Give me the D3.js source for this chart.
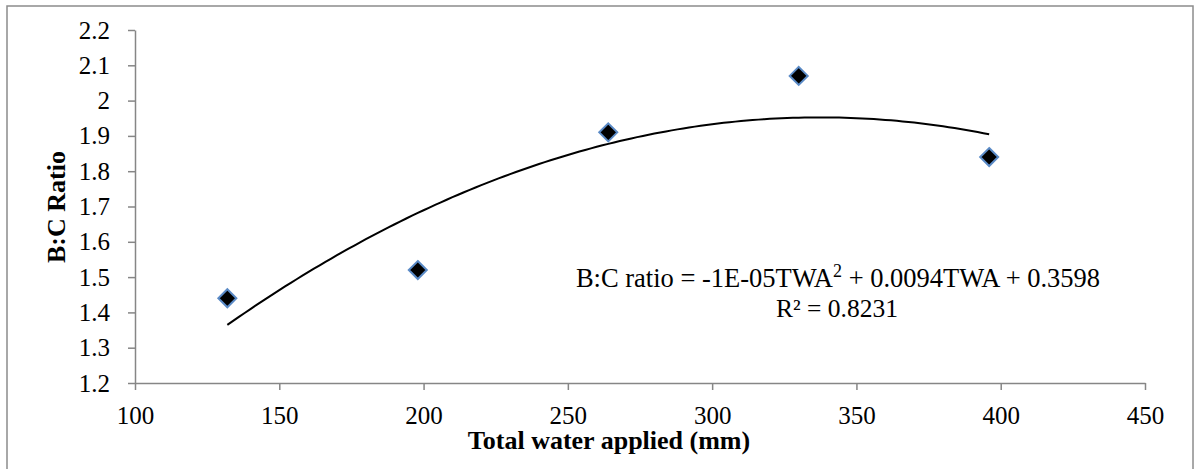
<!DOCTYPE html>
<html>
<head>
<meta charset="utf-8">
<script src="https://cdn.jsdelivr.net/npm/d3@7"></script>
<style>
  body { margin: 0; background: #fff; }
  text { font-family: "Liberation Serif", "Times New Roman", serif; fill: #000; }
</style>
</head>
<body>
<svg id="chart" width="1196" height="469"></svg>
<script>
// data
var water = [132, 198, 264, 330, 396];
var ratio = [1.44, 1.52, 1.91, 2.07, 1.84];
var xTicks = [100, 150, 200, 250, 300, 350, 400, 450];
var yTicks = [1.2, 1.3, 1.4, 1.5, 1.6, 1.7, 1.8, 1.9, 2, 2.1, 2.2];

var svg = d3.select('#chart');
var plotLeft = 135, plotRight = 1145, plotTop = 30, plotBottom = 383;

var x = d3.scaleLinear().domain([100, 450]).range([plotLeft, plotRight]);
var y = d3.scaleLinear().domain([1.2, 2.2]).range([plotBottom, plotTop]);

// outer frame
svg.append('rect')
  .attr('x', 7).attr('y', 6)
  .attr('width', 1186).attr('height', 480)
  .attr('fill', 'none')
  .attr('stroke', '#8c8c8c')
  .attr('stroke-width', 1.5);

// axes
var xAxis = svg.append('g')
  .attr('transform', 'translate(0,' + plotBottom + ')')
  .call(d3.axisBottom(x).tickValues(xTicks).tickSize(7).tickSizeOuter(0).tickPadding(16));

var yAxis = svg.append('g')
  .attr('transform', 'translate(' + plotLeft + ',0)')
  .call(d3.axisLeft(y).tickValues(yTicks).tickSize(7).tickSizeOuter(0).tickPadding(18)
    .tickFormat(function(d) { return String(+d.toFixed(1)); }));

[xAxis, yAxis].forEach(function(g) {
  g.attr('font-family', '"Liberation Serif", serif');
  g.select('.domain').attr('stroke', '#868686').attr('stroke-width', 1.5);
  g.selectAll('.tick line').attr('stroke', '#868686').attr('stroke-width', 1.5);
  g.selectAll('.tick text')
    .attr('font-family', '"Liberation Serif", serif')
    .attr('font-size', 25)
    .attr('fill', '#000');
});

// axis titles
svg.append('text')
  .attr('x', 609).attr('y', 449)
  .attr('text-anchor', 'middle')
  .attr('font-size', 26)
  .attr('font-weight', 'bold')
  .text('Total water applied (mm)');

svg.append('text')
  .attr('transform', 'translate(65,207) rotate(-90)')
  .attr('text-anchor', 'middle')
  .attr('font-size', 26)
  .attr('font-weight', 'bold')
  .text('B:C Ratio');

// least squares quadratic trend, same as the one shown in the equation
function quadFit(xs, ys) {
  var s = [0, 0, 0, 0, 0], t = [0, 0, 0];
  xs.forEach(function(xv, i) {
    for (var k = 0; k < 5; k++) s[k] += Math.pow(xv, k);
    for (var k = 0; k < 3; k++) t[k] += Math.pow(xv, k) * ys[i];
  });
  var m = [[s[0], s[1], s[2], t[0]], [s[1], s[2], s[3], t[1]], [s[2], s[3], s[4], t[2]]];
  for (var c = 0; c < 3; c++) {
    for (var r = c + 1; r < 3; r++) {
      var f = m[r][c] / m[c][c];
      for (var k = c; k < 4; k++) m[r][k] -= f * m[c][k];
    }
  }
  var b = [0, 0, 0];
  for (var r = 2; r >= 0; r--) {
    var v = m[r][3];
    for (var k = r + 1; k < 3; k++) v -= m[r][k] * b[k];
    b[r] = v / m[r][r];
  }
  return b; // c0, c1, c2
}
var coef = quadFit(water, ratio);
var trend = d3.range(d3.min(water), d3.max(water) + 0.5, 2).map(function(xv) {
  return [xv, coef[0] + coef[1] * xv + coef[2] * xv * xv];
});

svg.append('path')
  .datum(trend)
  .attr('fill', 'none')
  .attr('stroke', '#000')
  .attr('stroke-width', 2)
  .attr('d', d3.line()
    .x(function(d) { return x(d[0]); })
    .y(function(d) { return y(d[1]); }));

// markers
svg.selectAll('.pt')
  .data(water)
  .enter()
  .append('path')
  .attr('class', 'pt')
  .attr('d', 'M0,-9L9,0L0,9L-9,0Z')
  .attr('transform', function(d, i) { return 'translate(' + x(d) + ',' + y(ratio[i]) + ')'; })
  .attr('fill', '#000')
  .attr('stroke', '#5a8ac6')
  .attr('stroke-width', 2);

// equation
var eq = svg.append('text')
  .attr('x', 838).attr('y', 287)
  .attr('text-anchor', 'middle')
  .attr('font-size', 26.5);
eq.append('tspan').text('B:C ratio = -1E-05TWA');
eq.append('tspan').attr('dy', -10).attr('font-size', 18).text('2');
eq.append('tspan').attr('dy', 10).text(' + 0.0094TWA + 0.3598');

svg.append('text')
  .attr('x', 837).attr('y', 317)
  .attr('text-anchor', 'middle')
  .attr('font-size', 25.5)
  .text('R\u00b2 = 0.8231');
</script>
</body>
</html>
